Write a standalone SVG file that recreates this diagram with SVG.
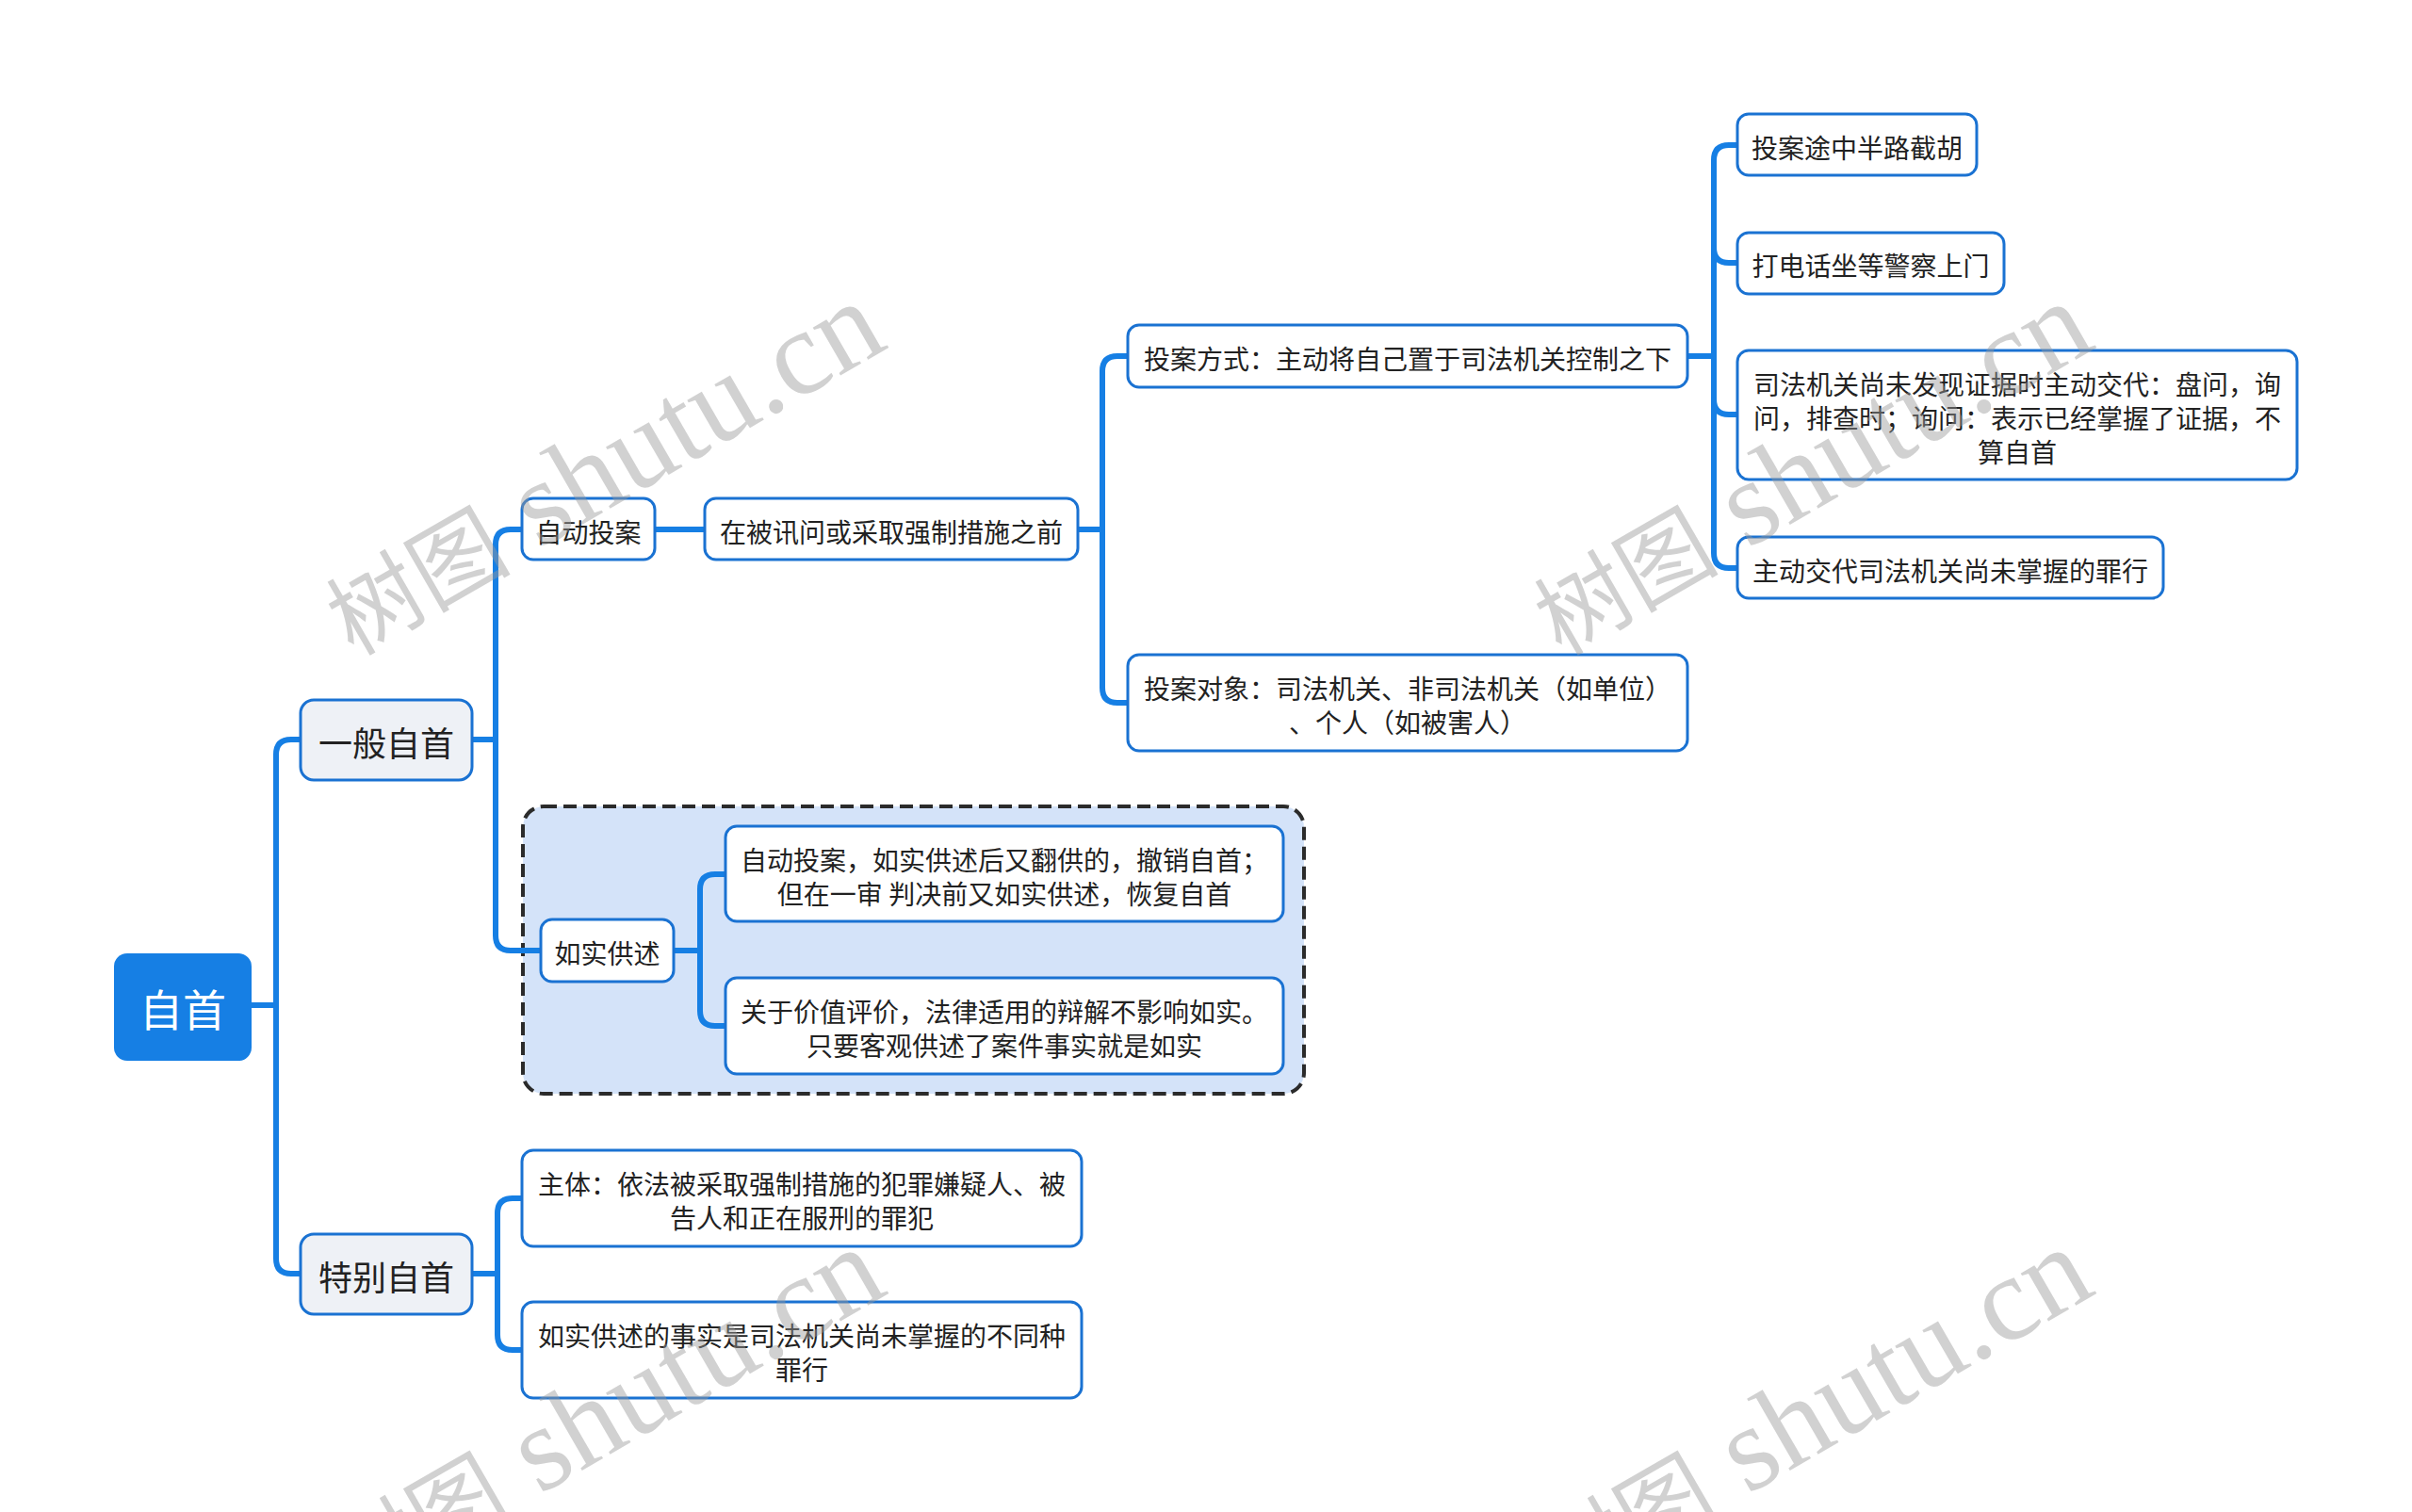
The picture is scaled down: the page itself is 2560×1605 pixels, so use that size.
<svg xmlns="http://www.w3.org/2000/svg" width="2560" height="1605" viewBox="0 0 2560 1605">
<style>
.c{fill:none;stroke:#167fe4;stroke-width:6;stroke-linecap:round;stroke-linejoin:round}
.n{fill:#ffffff;stroke:#1a72d2;stroke-width:3}
.l1{fill:#eef1f6;stroke:#1a72d2;stroke-width:3}
.t{font-family:"Noto Sans CJK SC","Noto Sans",sans-serif;font-size:28px;fill:#222;text-anchor:middle;dominant-baseline:central}
.t1{font-size:36px}
.wm{font-family:"Liberation Serif","Noto Sans CJK SC",serif;font-size:128px;fill:#999;fill-opacity:0.45;text-anchor:end}
.wc{font-size:98px}
</style>
<rect width="2560" height="1605" fill="#ffffff"/>
<g id="group-frame">
<rect x="555" y="856" width="829" height="305" rx="22" fill="#d4e3f9" stroke="#2b2b2b" stroke-width="4" stroke-dasharray="14 7"/>
</g>
<g id="connectors">
<path class="c" d="M267,1067 H293"/>
<path class="c" d="M319,785 H309 Q293,785 293,801 V1336 Q293,1352 309,1352 H319"/>
<path class="c" d="M501,785 H526"/>
<path class="c" d="M554,562 H542 Q526,562 526,578 V993 Q526,1009 542,1009 H574"/>
<path class="c" d="M695,562 H748"/>
<path class="c" d="M1144,562 H1170"/>
<path class="c" d="M1197,378 H1186 Q1170,378 1170,394 V730 Q1170,746 1186,746 H1197"/>
<path class="c" d="M1791,378 H1819"/>
<path class="c" d="M1844,154 H1835 Q1819,154 1819,170 V587 Q1819,603 1835,603 H1844"/>
<path class="c" d="M1819,263 Q1819,279 1835,279 H1844"/>
<path class="c" d="M1819,424 Q1819,440 1835,440 H1844"/>
<path class="c" d="M715,1009 H743"/>
<path class="c" d="M770,928 H759 Q743,928 743,944 V1073 Q743,1089 759,1089 H770"/>
<path class="c" d="M501,1352 H528"/>
<path class="c" d="M554,1272 H544 Q528,1272 528,1288 V1417 Q528,1433 544,1433 H554"/>
</g>
<g id="node-root">
<rect x="121" y="1012" width="146" height="114" rx="14" fill="#167fe4"/>
<text class="t" x="194" y="1069" style="font-size:46px;fill:#ffffff">自首</text>
</g>
<g id="node-general">
<rect class="l1" x="319" y="743" width="182" height="85" rx="14"/>
<text class="t t1" x="410" y="787">一般自首</text>
</g>
<g id="node-special">
<rect class="l1" x="319" y="1310" width="182" height="85" rx="14"/>
<text class="t t1" x="410" y="1354">特别自首</text>
</g>
<g id="node-zidong">
<rect class="n" x="554" y="529" width="141" height="65" rx="12"/>
<text class="t" x="624.5" y="564">自动投案</text>
</g>
<g id="node-before">
<rect class="n" x="748" y="529" width="396" height="65" rx="12"/>
<text class="t" x="946" y="564">在被讯问或采取强制措施之前</text>
</g>
<g id="node-fangshi">
<rect class="n" x="1197" y="345" width="594" height="66" rx="12"/>
<text class="t" x="1494" y="380">投案方式：主动将自己置于司法机关控制之下</text>
</g>
<g id="node-duixiang">
<rect class="n" x="1197" y="695" width="594" height="102" rx="12"/>
<text class="t" x="1494" y="730">投案对象：司法机关、非司法机关（如单位）</text>
<text class="t" x="1494" y="766">、个人（如被害人）</text>
</g>
<g id="node-jiehu">
<rect class="n" x="1844" y="121" width="254" height="65" rx="12"/>
<text class="t" x="1971" y="156">投案途中半路截胡</text>
</g>
<g id="node-dianhua">
<rect class="n" x="1844" y="247" width="283" height="65" rx="12"/>
<text class="t" x="1985.5" y="281">打电话坐等警察上门</text>
</g>
<g id="node-panwen">
<rect class="n" x="1844" y="372" width="594" height="137" rx="12"/>
<text class="t" x="2141" y="406.5">司法机关尚未发现证据时主动交代：盘问，询</text>
<text class="t" x="2141" y="442.5">问，排查时；询问：表示已经掌握了证据，不</text>
<text class="t" x="2141" y="478.5">算自首</text>
</g>
<g id="node-jiaodai">
<rect class="n" x="1844" y="570" width="452" height="65" rx="12"/>
<text class="t" x="2070" y="605">主动交代司法机关尚未掌握的罪行</text>
</g>
<g id="node-rushi">
<rect class="n" x="574" y="976" width="141" height="66" rx="12"/>
<text class="t" x="644.5" y="1011">如实供述</text>
</g>
<g id="node-fangong">
<rect class="n" x="770" y="877" width="592" height="101" rx="12"/>
<text class="t" x="1066" y="911.5">自动投案，如实供述后又翻供的，撤销自首；</text>
<text class="t" x="1066" y="947.5">但在一审 判决前又如实供述，恢复自首</text>
</g>
<g id="node-bianjie">
<rect class="n" x="770" y="1038" width="592" height="102" rx="12"/>
<text class="t" x="1066" y="1073">关于价值评价，法律适用的辩解不影响如实。</text>
<text class="t" x="1066" y="1109">只要客观供述了案件事实就是如实</text>
</g>
<g id="node-zhuti">
<rect class="n" x="554" y="1221" width="594" height="102" rx="12"/>
<text class="t" x="851" y="1256">主体：依法被采取强制措施的犯罪嫌疑人、被</text>
<text class="t" x="851" y="1292">告人和正在服刑的罪犯</text>
</g>
<g id="node-butong">
<rect class="n" x="554" y="1382" width="594" height="102" rx="12"/>
<text class="t" x="851" y="1417">如实供述的事实是司法机关尚未掌握的不同种</text>
<text class="t" x="851" y="1453">罪行</text>
</g>
<g id="watermark">
<text class="wm" transform="translate(945,368) rotate(-30)"><tspan class="wc">树图</tspan> shutu.cn</text>
<text class="wm" transform="translate(2227,368) rotate(-30)"><tspan class="wc">树图</tspan> shutu.cn</text>
<text class="wm" transform="translate(945,1372) rotate(-30)"><tspan class="wc">树图</tspan> shutu.cn</text>
<text class="wm" transform="translate(2227,1372) rotate(-30)"><tspan class="wc">树图</tspan> shutu.cn</text>
</g>
</svg>
